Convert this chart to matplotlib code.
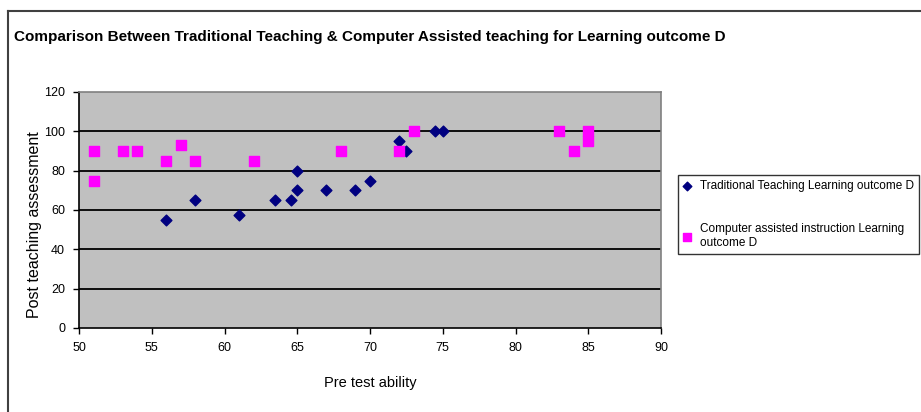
import numpy as np
import matplotlib

matplotlib.use('Agg')
import matplotlib.pyplot as plt
from matplotlib.lines import Line2D

# Pre test ability (x) vs post teaching assessment (y)
TRAD_X = [56, 58, 61, 63.5, 64.6, 65, 65, 67, 69, 70, 72, 72.5, 74.5, 75]
TRAD_Y = [55, 65, 57.5, 65, 65, 80, 70, 70, 70, 75, 95, 90, 100, 100]

CAI_X = [51, 51, 53, 54, 56, 57, 58, 62, 68, 72, 73, 83, 84, 85, 85]
CAI_Y = [90, 75, 90, 90, 85, 93, 85, 85, 90, 90, 100, 100, 90, 100, 95]

TITLE = "Comparison Between Traditional Teaching & Computer Assisted teaching for Learning outcome D"
X_TICKS = [50, 55, 60, 65, 70, 75, 80, 85, 90]
Y_TICKS = [0, 20, 40, 60, 80, 100, 120]
LABELS = ["Traditional Teaching Learning outcome D",
          "Computer assisted instruction Learning\noutcome D"]

FONT = ['Liberation Sans', 'DejaVu Sans']

W, H = 921, 412
fig = plt.figure(figsize=(W / 100., H / 100.), dpi=100)

# chart area border (only top and left are visible in the crop)
fig.add_artist(Line2D([8 / W, 1], [1 - 11 / H, 1 - 11 / H], color="#404040", lw=1.5))
fig.add_artist(Line2D([8 / W, 8 / W], [0, 1 - 11 / H], color="#404040", lw=1.5))

fig.text(14 / W, 1 - 37 / H, TITLE, fontsize=11, fontweight="bold",
         family=FONT, va="center", ha="left")

# plot area in pixels: x 79..661, y 92..328
ax = fig.add_axes([79 / W, 1 - 328 / H, (661 - 79) / W, (328 - 92) / H])
ax.set_facecolor("#C0C0C0")

ax.set_xlim(50, 90)
ax.set_ylim(0, 120)
ax.set_xticks(X_TICKS)
ax.set_yticks(Y_TICKS)
ax.set_xticklabels([str(t) for t in X_TICKS], family=FONT, fontsize=9)
ax.set_yticklabels([str(t) for t in Y_TICKS], family=FONT, fontsize=9)
ax.tick_params(direction="out", length=4, width=1, color="black", pad=6)

for yv in Y_TICKS[1:-1]:
    ax.axhline(yv, color="black", lw=1.3, zorder=1)

ax.spines["left"].set_color("black")
ax.spines["bottom"].set_color("black")
ax.spines["top"].set_color("#808080")
ax.spines["right"].set_color("#808080")
for sp in ax.spines.values():
    sp.set_linewidth(1.2)

h1 = ax.scatter(TRAD_X, TRAD_Y, marker="D", s=30, color="#000080", zorder=3)
h2 = ax.scatter(CAI_X, CAI_Y, marker="s", s=50, color="#FF00FF", zorder=4)

ax.set_xlabel("Pre test ability", family=FONT, fontsize=10.5, labelpad=16)
ax.set_ylabel("Post teaching assessment", family=FONT, fontsize=11.5)
ax.yaxis.set_label_coords(-0.064, 0.44)

leg = fig.legend([h1, h2], LABELS, loc="upper left",
                 bbox_to_anchor=(678 / W, 1 - 175 / H), bbox_transform=fig.transFigure,
                 prop={"family": FONT, "size": 8.5}, frameon=True, fancybox=False,
                 edgecolor="black", handletextpad=0.8, handlelength=0.6,
                 labelspacing=2.6, borderpad=0.45, borderaxespad=0, markerscale=0.8)
leg.get_frame().set_linewidth(1.0)

fig.savefig("out.png", dpi=100)
